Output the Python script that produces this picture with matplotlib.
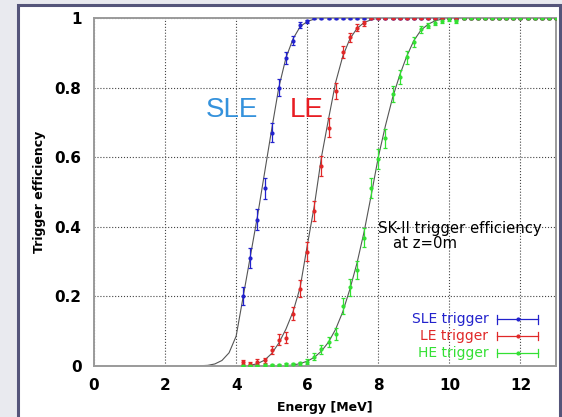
import numpy as np
import matplotlib
matplotlib.use('Agg')
import matplotlib.pyplot as plt
from matplotlib.patches import Rectangle

plt.rcParams['font.family'] = ['DejaVu Sans']

# measured points (0.2 MeV bins from 4.2 to 13.0 MeV)
energy = np.round(np.arange(4.2, 13.01, 0.2), 1)

sle_eff = [0.20, 0.31, 0.42, 0.51, 0.67, 0.80, 0.885, 0.935, 0.98, 0.99,
           1.0, 1.0, 1.0, 1.0, 1.0, 1.0, 1.0, 1.0, 1.0, 1.0, 1.0, 1.0, 1.0, 1.0, 1.0,
           1.0, 1.0, 1.0, 1.0, 1.0, 1.0, 1.0, 1.0, 1.0, 1.0, 1.0, 1.0, 1.0, 1.0, 1.0,
           1.0, 1.0, 1.0, 1.0, 1.0]
sle_err = [0.025, 0.028, 0.03, 0.03, 0.028, 0.024, 0.018, 0.014, 0.008, 0.005,
           0.002, 0.002, 0.002, 0.002, 0.002, 0.002, 0.002, 0.002, 0.002, 0.002,
           0.002, 0.002, 0.002, 0.002, 0.002, 0.002, 0.002, 0.002, 0.002, 0.002,
           0.002, 0.002, 0.002, 0.002, 0.002, 0.002, 0.002, 0.002, 0.002, 0.002,
           0.002, 0.002, 0.002, 0.002, 0.002]

le_eff = [0.010, 0.006, 0.012, 0.015, 0.045, 0.075, 0.080, 0.150, 0.222, 0.328,
          0.445, 0.575, 0.685, 0.790, 0.902, 0.944, 0.972, 0.985,
          1.0, 1.0, 1.0, 1.0, 1.0, 1.0, 1.0, 1.0, 1.0, 1.0, 1.0, 1.0, 1.0, 1.0,
          1.0, 1.0, 1.0, 1.0, 1.0, 1.0, 1.0, 1.0, 1.0, 1.0, 1.0, 1.0, 1.0]
le_err = [0.006, 0.005, 0.007, 0.008, 0.012, 0.016, 0.016, 0.02, 0.024, 0.027,
          0.029, 0.029, 0.027, 0.024, 0.018, 0.014, 0.01, 0.007,
          0.002, 0.002, 0.002, 0.002, 0.002, 0.002, 0.002, 0.002, 0.002, 0.002,
          0.002, 0.002, 0.002, 0.002, 0.002, 0.002, 0.002, 0.002, 0.002, 0.002,
          0.002, 0.002, 0.002, 0.002, 0.002, 0.002, 0.002]

he_eff = [0.0, 0.0, 0.0, 0.002, 0.002, 0.003, 0.004, 0.005, 0.007,
          0.011, 0.026, 0.047, 0.068, 0.091, 0.172, 0.225, 0.275, 0.368, 0.51,
          0.595, 0.654, 0.78, 0.83, 0.887, 0.932, 0.967, 0.978, 0.987, 0.992,
          0.996, 0.99,
          1.0, 1.0, 1.0, 1.0, 1.0, 1.0, 1.0, 1.0, 1.0, 1.0, 1.0, 1.0, 1.0, 1.0]
he_err = [0.002, 0.002, 0.002, 0.003, 0.003, 0.003, 0.004, 0.004, 0.005,
          0.007, 0.01, 0.013, 0.015, 0.017, 0.022, 0.024, 0.026, 0.028, 0.029,
          0.028, 0.027, 0.023, 0.021, 0.018, 0.014, 0.01, 0.008, 0.006, 0.005,
          0.004, 0.005,
          0.002, 0.002, 0.002, 0.002, 0.002, 0.002, 0.002, 0.002, 0.002, 0.002,
          0.002, 0.002, 0.002, 0.002]

# fitted curves
sle_fit_e = [3.0, 3.2, 3.4, 3.6, 3.8, 4.0, 4.2, 4.4, 4.6, 4.8, 5.0, 5.2, 5.4,
             5.6, 5.8, 6.0, 6.2, 6.4, 13.0]
sle_fit = [0.0, 0.001, 0.005, 0.015, 0.037, 0.085, 0.2, 0.315, 0.43, 0.555,
           0.68, 0.80, 0.885, 0.94, 0.975, 0.99, 0.997, 1.0, 1.0]
le_fit_e = [4.4, 4.6, 4.8, 5.0, 5.2, 5.4, 5.6, 5.8, 6.0, 6.2, 6.4, 6.6, 6.8,
            7.0, 7.2, 7.4, 7.6, 7.8, 8.0, 13.0]
le_fit = [0.001, 0.006, 0.016, 0.035, 0.065, 0.105, 0.155, 0.225, 0.345, 0.46,
          0.60, 0.71, 0.815, 0.89, 0.94, 0.97, 0.987, 0.995, 1.0, 1.0]
he_fit_e = [5.4, 5.6, 5.8, 6.0, 6.2, 6.4, 6.6, 6.8, 7.0, 7.2, 7.4, 7.6, 7.8,
            8.0, 8.2, 8.4, 8.6, 8.8, 9.0, 9.2, 9.4, 9.6, 9.8, 10.0, 13.0]
he_fit = [0.0, 0.002, 0.006, 0.013, 0.024, 0.042, 0.068, 0.105, 0.155, 0.22,
          0.295, 0.385, 0.49, 0.60, 0.69, 0.77, 0.835, 0.89, 0.935, 0.965,
          0.982, 0.992, 0.997, 1.0, 1.0]

series = [
    ('SLE trigger', sle_eff, sle_err, sle_fit_e, sle_fit, '#2222cc'),
    ('LE trigger', le_eff, le_err, le_fit_e, le_fit, '#e02828'),
    ('HE trigger', he_eff, he_err, he_fit_e, he_fit, '#33e033'),
]

fig = plt.figure(figsize=(5.62, 4.17), dpi=100)
fig.patch.set_facecolor('#e9eaef')
fig.patches.append(Rectangle((18 / 562, -0.02), 542 / 562, 1.0 - 5 / 417 + 0.02,
                             transform=fig.transFigure, facecolor='white',
                             edgecolor='#55557a', linewidth=2.2, zorder=-10))

ax = fig.add_axes([94 / 562, 51.3 / 417, 462 / 562, 347.7 / 417])
ax.set_facecolor('white')
ax.set_xlim(0, 13)
ax.set_ylim(0, 1)

for label, eff, err, fe, fv, col in series:
    ax.plot(fe, fv, color='#555555', lw=0.8, zorder=2)
    ax.errorbar(energy, eff, yerr=err, fmt='o', ms=2, color=col, ecolor=col,
                elinewidth=0.9, capsize=1.5, capthick=0.9, zorder=3)

ax.set_xticks([0, 2, 4, 6, 8, 10, 12])
ax.set_yticks([0, 0.2, 0.4, 0.6, 0.8, 1.0])
ax.set_yticklabels(['0', '0.2', '0.4', '0.6', '0.8', '1'])
ax.tick_params(length=0, labelsize=11, pad=9)
for t in ax.get_xticklabels() + ax.get_yticklabels():
    t.set_fontweight('bold')
ax.grid(True, color='#444444', linestyle=':', linewidth=0.8)
ax.set_axisbelow(True)
for s in ax.spines.values():
    s.set_color('#9a9a9a')
    s.set_linewidth(1.4)

ax.set_xlabel('Energy [MeV]', fontsize=9, fontweight='bold')
ax.set_ylabel('Trigger efficiency', fontsize=9, fontweight='bold')
ax.xaxis.set_label_coords(0.5, -0.101)
ax.yaxis.set_label_coords(-0.104, 0.5)

ax.text(3.15, 0.735, 'SLE', color='#3592dc', fontsize=20, va='center',
        family='Liberation Sans')
ax.text(5.5, 0.735, 'LE', color='#e81c22', fontsize=20, va='center',
        family='Liberation Sans')
ax.text(7.99, 0.396, 'SK-II trigger efficiency', fontsize=10.7, va='center')
ax.text(8.41, 0.352, 'at z=0m', fontsize=10.7, va='center')

# legend in gnuplot style: text right aligned, sample with caps
leg_y = [0.133, 0.085, 0.036]
for (label, eff, err, fe, fv, col), yy in zip(series, leg_y):
    ax.text(11.1, yy, label, color=col, fontsize=10, ha='right', va='center')
    ax.plot([11.35, 12.5], [yy, yy], color=col, lw=0.9)
    ax.plot([11.35, 11.35], [yy - 0.012, yy + 0.012], color=col, lw=0.9)
    ax.plot([12.5, 12.5], [yy - 0.012, yy + 0.012], color=col, lw=0.9)
    ax.plot([11.92], [yy], 'o', ms=2, color=col)

fig.savefig('out.png', dpi=100, facecolor=fig.get_facecolor())
